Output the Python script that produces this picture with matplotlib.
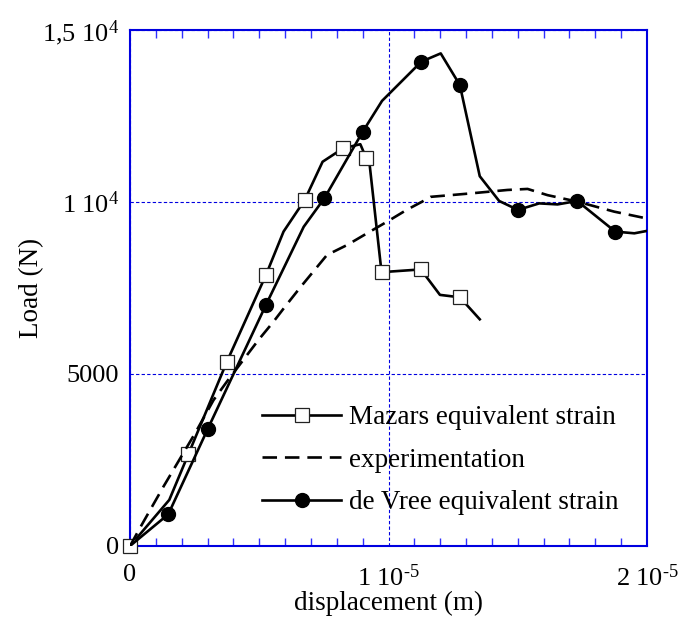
import numpy as np
from matplotlib import pyplot as plt
from matplotlib.ticker import FixedLocator, FixedFormatter, MultipleLocator

plt.rcParams['font.family'] = ['Liberation Serif', 'DejaVu Serif']
plt.rcParams['mathtext.fontset'] = 'custom'
plt.rcParams['mathtext.rm'] = 'Liberation Serif'
plt.rcParams['mathtext.default'] = 'rm'

# displacement in units of 1e-6 m, load in N
mazars_x = [0, 1.52, 2.26, 3.75, 5.26, 5.94, 6.76, 7.45, 8.24, 8.91, 9.13, 9.22, 9.73, 11.25, 11.99, 12.76, 13.53]
mazars_y = [0, 1340, 2670, 5360, 7880, 9140, 10060, 11170, 11560, 11680, 11290, 11430, 7960, 8040, 7300, 7230, 6590]
mazars_marks = [0, 2, 3, 4, 6, 8, 10, 12, 13, 15]

exp_x = [0, 0.45, 1.29, 2.52, 3.23, 3.75, 4.97, 5.55, 6.0, 6.6, 7.62, 8.4, 9.17, 9.95,
         10.7, 11.3, 11.63, 13.18, 14.6, 15.38, 16.15, 17.31, 18.73, 20.0]
exp_y = [0, 610, 1720, 3280, 4240, 4780, 5990, 6520, 6960, 7530, 8460, 8750, 9090, 9430,
         9770, 10010, 10150, 10250, 10350, 10380, 10200, 10010, 9720, 9520]

devree_x = [0, 1.48, 3.00, 5.26, 6.72, 7.52, 9.00, 9.75, 11.27, 12.02, 12.76, 13.53, 14.28,
            15.01, 15.83, 16.54, 17.30, 18.77, 19.51, 20.0]
devree_y = [0, 920, 3390, 7010, 9280, 10110, 12040, 12940, 14080, 14320, 13400, 10750, 10030,
            9770, 9960, 9930, 10030, 9140, 9090, 9160]
devree_marks = [1, 2, 3, 5, 6, 8, 10, 13, 16, 17]

x_ticks = [0, 1e-5, 2e-5]
x_labels = ['0', r'1 10$^{\text{-}5}$', r'2 10$^{\text{-}5}$']
y_ticks = [0, 5000, 10000, 15000]
y_labels = ['0', '5000', '1 10$^{4}$', '1,5 10$^{4}$']

fig = plt.figure(figsize=(6.82, 6.4), dpi=100)
ax = fig.add_axes([0.1906, 0.1469, 0.7581, 0.8062])

blue = '#0000e0'

ax.plot(np.array(mazars_x) * 1e-6, mazars_y, color='black', lw=1.9,
        marker='s', markevery=mazars_marks, markersize=10, markerfacecolor='white',
        markeredgecolor='#222222', markeredgewidth=0.9, clip_on=False, zorder=3,
        label='Mazars equivalent strain')
ax.plot(np.array(exp_x) * 1e-6, exp_y, color='black', lw=1.9, linestyle=(0, (5.5, 3)),
        zorder=3, label='experimentation')
ax.plot(np.array(devree_x) * 1e-6, devree_y, color='black', lw=1.9,
        marker='o', markevery=devree_marks, markersize=10, markerfacecolor='black',
        markeredgecolor='black', zorder=3, label='de Vree equivalent strain')

ax.set_xlim(0, 2e-5)
ax.set_ylim(0, 15000)

ax.xaxis.set_major_locator(FixedLocator(x_ticks))
ax.xaxis.set_major_formatter(FixedFormatter(x_labels))
ax.yaxis.set_major_locator(FixedLocator(y_ticks))
ax.yaxis.set_major_formatter(FixedFormatter(y_labels))
ax.xaxis.set_minor_locator(MultipleLocator(1e-6))

ax.tick_params(axis='both', which='major', length=0, labelsize=19, pad=13)
ax.tick_params(axis='y', which='major', pad=8)
ax.tick_params(axis='x', which='minor', direction='in', length=6, width=1,
               color='#3030ff', top=True, bottom=True)

ax.grid(True, which='major', color=blue, linestyle=(0, (3, 2)), lw=0.8)

for s in ax.spines.values():
    s.set_color(blue)
    s.set_linewidth(1.5)

ax.set_xlabel('displacement (m)', fontsize=19.5, labelpad=0)
ax.set_ylabel('Load (N)', fontsize=19.5, labelpad=-2)

ax.legend(loc='upper left', frameon=False, fontsize=19.5, handlelength=2.9,
          handletextpad=0.3, labelspacing=0.65, borderpad=0.4,
          bbox_to_anchor=(0.209, 0.320))

fig.savefig('out.png', dpi=100)
